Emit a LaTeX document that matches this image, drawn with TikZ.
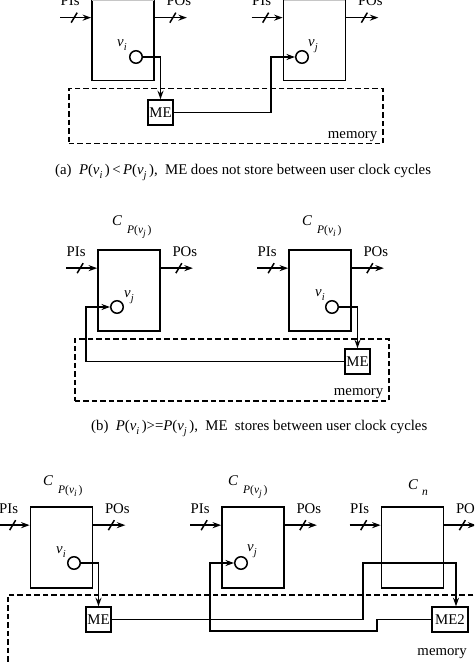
\documentclass[tikz,border=0pt]{standalone}
\usepackage{fontspec}
\setmainfont{Liberation Serif}
\usetikzlibrary{calc,arrows.meta}
\newcommand{\vlab}[1]{\textit{v}\raisebox{-4pt}{\fontsize{10.5}{10.5}\selectfont\textit{#1}}}
\newcommand{\Clab}[1]{\textit{C}\hspace{5pt}\raisebox{-8pt}{\fontsize{11.5}{11.5}\selectfont\textit{P}(\textit{v}\raisebox{-3.5pt}{\fontsize{9.5}{9.5}\selectfont\textit{#1}}\,)}}
\newcommand{\Pv}[1]{\textit{P}(\textit{v}\raisebox{-4pt}{\fontsize{10.5}{10.5}\selectfont\textit{#1}}\,)}
\newcommand{\mkblock}[3]{%
  \node[blk] (#1) at (#2,#3+40.5) {};
  \coordinate (#1pi) at ($(#1.north west)+(-31,19)$);
  \coordinate (#1po) at ($(#1.north east)+(32,19)$);
  \draw[sig,arr] (#1pi) -- (#1.west |- #1pi);
  \draw[sig,arr] (#1.east |- #1po) -- (#1po);
  \draw[sig] ($(#1pi)+(11,5)$) -- ($(#1pi)+(17,-5)$);
  \draw[sig] ($(#1po)+(-17,5)$) -- ($(#1po)+(-11,-5)$);
  \node[lbl,anchor=base] (#1pil) at ($(#1.north west)+(-21,7)$) {PIs};
  \node[lbl,anchor=base] (#1pol) at ($(#1.north east)+(24,7)$) {POs};
}
\tikzset{
  lbl/.style={inner sep=0pt, font=\fontsize{14.8}{17}\selectfont},
  blk/.style={draw, line width=1.7pt, minimum width=62, minimum height=81, inner sep=0pt},
  sig/.style={line width=1.5pt},
  arr/.style={-{Stealth[length=8.5pt,width=6pt]}},
  circ/.style={circle, draw, line width=1.5pt, minimum size=12.5, inner sep=0pt},
  mebox/.style={draw, line width=1.5pt, minimum width=25, minimum height=25, inner sep=0pt, font=\fontsize{14.8}{17}\selectfont},
  mem/.style={draw, dashed, dash pattern=on 5.5pt off 3pt, line width=1.5pt, inner sep=0pt},
}
\begin{document}
\begin{tikzpicture}[x=1pt,y=-1pt]
\useasboundingbox (0,0) rectangle (474,663);
\clip (0,0) rectangle (474,663);
\fill[white] (0,0) rectangle (474,663);

% ---------- (a)
\mkblock{A1}{123}{-0.5}
\mkblock{A2}{314.5}{-0.5}
\draw[gray!45, line width=1.6pt] ($(A1.north west)+(0.9,1.6)$) -- ($(A1.north east)+(-0.9,1.6)$);
\draw[gray!45, line width=1.6pt] ($(A2.north west)+(0.9,1.6)$) -- ($(A2.north east)+(-0.9,1.6)$);
\node[circ] (ai) at (136,57) {};
\node[circ] (aj) at (302,57) {};
\node[lbl,anchor=base west] (ail) at (117,47) {\vlab{i}};
\node[lbl,anchor=base west] (ajl) at (308,47) {\vlab{j}};
\node[mem, minimum width=314, minimum height=55, anchor=north west] (amem) at (68,88) {};
\node[lbl,anchor=base east] (ameml) at ($(amem.south east)+(-6,-6)$) {memory};
\node[mebox] (aME) at (160.5,112.5) {ME};
\coordinate (ab) at (271,57);
\draw[sig,arr] (ai.east) -| (aME.north);
\draw[sig,arr] (aME.east) -| (ab) -- (aj.west);
\node[lbl,anchor=base west] (acap) at (55,175) {(a)\ \ \Pv{i}\,<\,\Pv{j},\ \ ME does not store between user clock cycles};

% ---------- (b)
\mkblock{B1}{129}{250}
\mkblock{B2}{320}{250}
\node[lbl,anchor=base west] (B1c) at (112,225) {\Clab{j}};
\node[lbl,anchor=base west] (B2c) at (302,225) {\Clab{i}};
\node[circ] (bj) at (117,307) {};
\node[circ] (bi) at (332,307) {};
\node[lbl,anchor=base west] (bjl) at (124,297) {\vlab{j}};
\node[lbl,anchor=base west] (bil) at (315,296) {\vlab{i}};
\node[mem, minimum width=314, minimum height=62, anchor=north west] (bmem) at (74,338) {};
\node[lbl,anchor=base east] (bmeml) at ($(bmem.south east)+(-6,-6)$) {memory};
\node[mebox] (bME) at (357.5,361.5) {ME};
\coordinate (bb) at (86,307);
\draw[sig,arr] (bi.east) -| (bME.north);
\draw[sig,arr] (bME.west) -| (bb) -- (bj.west);
\node[lbl,anchor=base west] (bcap) at (91,430) {(b)\ \ \Pv{i}>=\Pv{j},\ \ ME\ \ stores between user clock cycles};

% ---------- (c)
\mkblock{C1}{61.5}{507}
\mkblock{C2}{253}{507}
\mkblock{C3}{412.5}{507}
\node[lbl,anchor=base west] (C1c) at (43,485) {\Clab{i}};
\node[lbl,anchor=base west] (C2c) at (228,485) {\Clab{j}};
\node[lbl,anchor=base west] (C3c) at (408,489) {\textit{C}\hspace{4pt}\raisebox{-6pt}{\fontsize{11.5}{11.5}\selectfont\textit{n}}};
\node[circ] (ci) at (74,563) {};
\node[circ] (cj) at (241,563) {};
\node[lbl,anchor=base west] (cil) at (56,553) {\vlab{i}};
\node[lbl,anchor=base west] (cjl) at (247,551) {\vlab{j}};
\node[mem, minimum width=500, minimum height=120, anchor=north west] (cmem) at (7,594) {};
\node[lbl,anchor=base east] (cmeml) at (467,655) {memory};
\node[mebox] (cME) at (98.5,619.5) {ME};
\node[mebox, minimum width=36] (cME2) at (450,619.5) {ME2};
\coordinate (c1) at (363,563);
\coordinate (c2) at (377,631);
\coordinate (c3) at (210,563);
\draw[sig,arr] (ci.east) -| (cME.north);
\draw[sig,arr] (cME.east) -| (c1) -| ($(cME2.north)+(6,0)$);
\draw[sig,arr] (cME2.west) -| (c2) -| (c3) -- (cj.west);
\end{tikzpicture}
\end{document}
